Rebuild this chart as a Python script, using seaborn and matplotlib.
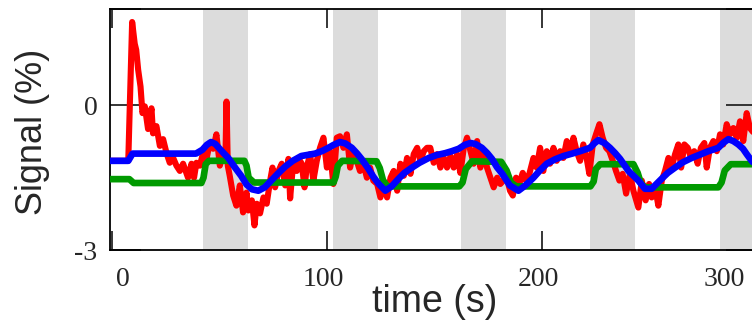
import numpy as np
import pandas as pd
import matplotlib
matplotlib.use("Agg")
import matplotlib.pyplot as plt
import seaborn as sns

# Measured signal (red): time (s) and value (%)
red_t = [-1, 7.5, 9.3, 10.5, 11.2, 12.1, 13.2, 14.1, 15.2, 16.7, 18.3, 19.0, 20.6, 22.2, 23.7,
         25.3, 26.8, 28.4, 29.9, 31.5, 33.0, 35.3, 36.9, 38.1, 39.2, 40.8, 42.3, 43.9, 45.4,
         47.0, 48.5, 50.1, 51.6, 52.7, 53.2, 53.8, 54.7, 56.3, 57.8, 59.4, 60.9, 62.5, 63.4,
         65.0, 66.2, 67.3, 68.8, 70.4, 71.9, 73.5, 74.6, 75.8, 77.4, 78.9, 80.5, 82.0, 82.8,
         84.3, 85.9, 86.6, 88.2, 89.5, 90.5, 92.1, 93.6, 95.2, 96.7, 98.3, 99.9, 101.4, 102.9,
         104.5, 106.0, 107.6, 109.2, 110.7, 112.2, 113.8, 115.3, 116.9, 118.5, 120.0, 121.5,
         123.3, 124.8, 126.4, 127.9, 129.5, 131.0, 132.6, 134.1, 135.7, 137.2, 138.8, 140.3,
         141.9, 143.4, 145.0, 146.5, 148.0, 149.6, 151.2, 152.7, 154.3, 155.8, 157.4, 158.9,
         160.5, 162.0, 163.6, 165.1, 166.7, 168.2, 169.8, 171.3, 172.9, 174.4, 176.0, 177.5,
         179.1, 180.6, 182.0, 183.6, 185.1, 186.4, 187.9, 189.4, 191.0, 192.6, 194.1, 196.0,
         197.5, 199.1, 200.6, 202.2, 203.7, 205.3, 206.8, 208.4, 209.9, 211.5, 213.0, 214.6,
         216.1, 217.7, 219.2, 220.8, 222.0, 223.6, 225.1, 226.7, 228.2, 229.8, 231.3, 232.9,
         234.4, 236.0, 237.5, 239.1, 240.9, 242.5, 244.8, 246.4, 248.2, 249.8, 251.0, 252.6,
         254.1, 255.7, 257.2, 258.8, 260.3, 261.9, 263.4, 264.7, 266.2, 267.8, 269.3, 270.8,
         272.4, 273.9, 275.5, 276.6, 278.1, 279.7, 281.3, 282.8, 284.3, 285.9, 287.4, 289.0,
         290.6, 292.1, 293.6, 295.2, 296.7, 299.0, 301.0]
red_v = [-1.15, -1.15, 1.73, 1.28, 1.15, 0.74, 0.39, -0.16, -0.02, -0.49, -0.06, -0.58, -0.43,
         -0.84, -0.70, -0.99, -1.19, -1.09, -1.25, -1.36, -1.21, -1.50, -1.21, -1.50, -1.19,
         -1.25, -0.99, -1.11, -0.78, -0.90, -0.60, -1.25, -0.99, -1.10, 0.08, -1.25, -1.46,
         -1.87, -2.08, -1.66, -2.22, -1.81, -2.18, -1.97, -2.49, -2.04, -2.24, -1.91, -2.04,
         -1.56, -1.29, -1.70, -1.36, -1.21, -1.66, -1.11, -1.93, -1.15, -1.36, -1.09, -1.21,
         -1.70, -1.29, -1.01, -1.56, -1.15, -0.88, -0.67, -1.29, -0.95, -1.63, -0.67, -0.64,
         -0.88, -0.60, -1.29, -0.95, -1.15, -1.36, -1.21, -1.50, -1.29, -1.56, -1.63, -1.91,
         -1.63, -1.91, -1.50, -1.36, -1.77, -1.21, -1.46, -1.09, -1.42, -1.01, -0.88, -1.15,
         -0.95, -0.88, -0.88, -1.19, -1.01, -1.29, -1.09, -1.29, -1.05, -1.29, -1.01, -1.40,
         -0.88, -0.67, -0.95, -1.21, -0.74, -1.29, -0.95, -1.29, -1.50, -1.70, -1.50, -1.63,
         -1.56, -1.50, -1.77, -1.87, -1.50, -1.63, -1.40, -1.56, -1.42, -1.09, -1.29, -0.88,
         -1.36, -0.95, -1.21, -0.88, -1.15, -0.95, -1.09, -0.74, -1.01, -0.67, -0.95, -1.15,
         -0.81, -1.11, -1.42, -0.81, -0.60, -0.39, -0.67, -0.88, -0.95, -1.15, -1.36, -1.56,
         -1.42, -1.83, -1.42, -1.77, -2.12, -1.56, -1.97, -1.63, -1.91, -1.70, -2.08, -1.56,
         -1.36, -1.09, -1.29, -1.01, -0.81, -1.29, -0.81, -0.88, -1.09, -0.95, -1.21, -0.88,
         -0.78, -1.29, -0.88, -0.74, -0.95, -0.60, -0.81, -0.39, -0.60, -0.47, -0.67, -0.33,
         -0.74, -0.16, -0.47, -0.60, -0.50]

# Model fit (blue)
blue_t = [-1, 7.5, 9.5, 39, 42, 44, 46, 48, 51, 54, 57, 60, 62.5, 65, 68, 71, 74, 77, 80.5,
          84, 88, 94.4, 98, 100.6, 103, 106, 108.5, 111.5, 114, 116, 119, 121.5, 124, 127.1,
          130, 133.3, 136, 139.5, 143, 147.3, 151, 155, 158, 161.2, 164, 166.7, 169, 172,
          174.5, 176.7, 179, 181.5, 185, 189, 192, 196, 199, 202.2, 206, 210, 214, 217.7,
          222.3, 224.5, 226.2, 229, 231.6, 234, 236.3, 240.2, 244.8, 247.9, 251, 253, 255.7,
          258.5, 261.9, 265.5, 269.6, 273.5, 277.4, 282, 284.5, 286.7, 289, 291.3, 293.5,
          295.2, 297.5, 301]
blue_v = [-1.15, -1.15, -1.0, -1.0, -0.92, -0.82, -0.76, -0.80, -0.95, -1.09, -1.28, -1.46,
          -1.64, -1.74, -1.77, -1.70, -1.56, -1.42, -1.27, -1.15, -1.05, -1.0, -0.94, -0.88,
          -0.82, -0.76, -0.79, -0.88, -1.0, -1.11, -1.30, -1.48, -1.63, -1.77, -1.68, -1.52,
          -1.40, -1.29, -1.19, -1.09, -1.03, -0.99, -0.95, -0.90, -0.82, -0.78, -0.80, -0.88,
          -0.99, -1.11, -1.28, -1.42, -1.66, -1.77, -1.67, -1.50, -1.35, -1.21, -1.12, -1.05,
          -1.0, -0.95, -0.88, -0.78, -0.72, -0.78, -0.88, -0.99, -1.11, -1.36, -1.56, -1.73,
          -1.73, -1.64, -1.52, -1.40, -1.29, -1.18, -1.09, -1.02, -0.95, -0.88, -0.77, -0.70,
          -0.74, -0.81, -0.90, -1.01, -1.15, -1.30]

# Stimulus regressor (green)
green_t = [-1, 8, 10, 41.5, 42.5, 43.5, 45, 61.5, 62.5, 63.5, 66, 103, 104, 105, 107, 123,
           124.5, 126, 128, 161.5, 163, 164.5, 167.4, 181, 183.5, 185.5, 188, 222.5, 224, 225,
           227, 242.5, 244.5, 246, 248, 282, 283.5, 285, 287.8, 301]
green_v = [-1.53, -1.53, -1.61, -1.61, -1.50, -1.22, -1.15, -1.15, -1.25, -1.50, -1.60, -1.60,
           -1.48, -1.25, -1.15, -1.16, -1.30, -1.55, -1.68, -1.68, -1.60, -1.32, -1.16, -1.17,
           -1.35, -1.60, -1.68, -1.68, -1.58, -1.32, -1.22, -1.22, -1.40, -1.62, -1.70, -1.70,
           -1.60, -1.35, -1.22, -1.22]

# Stimulation blocks (s)
block_starts = [42.3, 102.8, 162.3, 222.3, 282.8]
block_length = 21.0

x_ticks = [0, 100, 200, 300]
x_tick_labels = ["0", "100", "200", "300"]
x_label_pos = [5.1, 98.1, 198.1, 284.7]
y_ticks = [-3, 0, 2]
y_tick_labels = ["-3", "0", ""]

sns.set_style("ticks")

fig = plt.figure(figsize=(7.52, 3.2), dpi=100)
ax = fig.add_axes([110 / 752, 70 / 320, 647 / 752, 241 / 320])

for s in block_starts:
    ax.axvspan(s, s + block_length, color="#dcdcdc", lw=0, zorder=0)

red_df = pd.DataFrame({"t": red_t, "v": red_v})
blue_df = pd.DataFrame({"t": blue_t, "v": blue_v})
green_df = pd.DataFrame({"t": green_t, "v": green_v})

sns.lineplot(data=red_df, x="t", y="v", ax=ax, color="#ff0000", lw=4.4,
             sort=False, estimator=None, solid_joinstyle="round", zorder=2)
sns.lineplot(data=green_df, x="t", y="v", ax=ax, color="#009a00", lw=4.8,
             sort=False, estimator=None, solid_joinstyle="round", zorder=3)
sns.lineplot(data=blue_df, x="t", y="v", ax=ax, color="#0000ff", lw=4.8,
             sort=False, estimator=None, solid_joinstyle="round", zorder=4)

ax.set_xlim(-1, 300)
ax.set_ylim(-3, 2)

# Tick marks at the round values, labels drawn as minor ticks
ax.set_xticks(x_ticks)
ax.set_xticklabels([""] * len(x_ticks))
ax.set_xticks(x_label_pos, minor=True)
ax.set_xticklabels(x_tick_labels, minor=True, fontfamily="Liberation Serif", fontsize=20)
ax.tick_params(axis="x", which="minor", length=0, pad=12)
ax.tick_params(axis="x", which="major", direction="in", length=14, width=1.3,
               top=True, bottom=True)

ax.set_yticks(y_ticks)
ax.set_yticklabels(y_tick_labels, fontfamily="Liberation Serif", fontsize=20)
ax.tick_params(axis="y", which="major", direction="in", length=22, width=1.3,
               left=True, right=True, pad=9)

for sp in ax.spines.values():
    sp.set_linewidth(1.3)
    sp.set_color("black")
    sp.set_visible(True)

ax.set_xlabel("time (s)", fontfamily="Liberation Sans", fontsize=27)
ax.set_ylabel("Signal (%)", fontfamily="Liberation Sans", fontsize=26)
ax.xaxis.set_label_coords(0.502, -0.14)
ax.yaxis.set_label_coords(-0.093, 0.49)

fig.savefig("out.png", dpi=100)
